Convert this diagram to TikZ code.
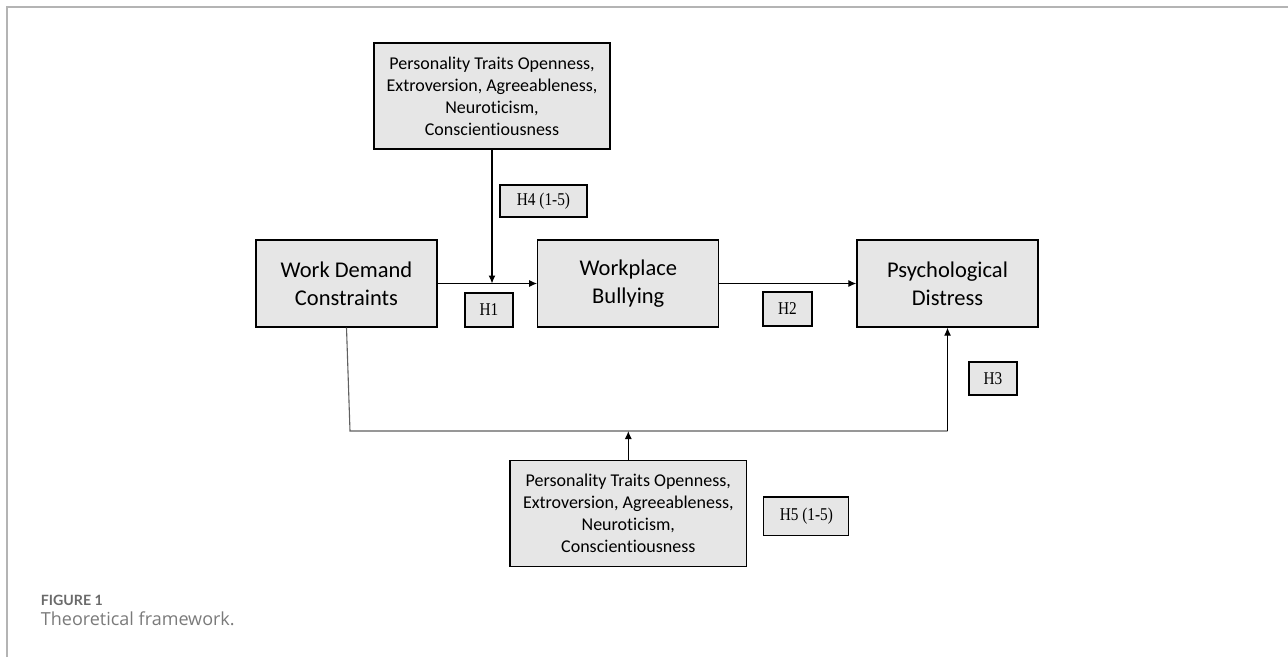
\documentclass[tikz,border=0pt]{standalone}
\usepackage{graphicx}
\usepackage{fontspec}
\setmainfont{Carlito}[Ligatures={NoCommon}]
\newfontfamily\hfont[FakeStretch=0.85]{Liberation Serif}
\newfontfamily\capfont{Open Sans}
\newfontfamily\figfont{Lato}
\usetikzlibrary{arrows.meta}
\definecolor{boxgray}{HTML}{E6E6E6}
\definecolor{framegray}{HTML}{B4B4B4}
\definecolor{capgray}{HTML}{7A7A7A}
\definecolor{figgray}{HTML}{6A6A6A}
\definecolor{linegray}{HTML}{606060}
\begin{document}
\begin{tikzpicture}[x=1pt,y=-1pt,
  mainbox/.style={draw=black,line width=1.3pt,fill=boxgray,minimum width=181pt,minimum height=87pt,inner sep=0pt,align=center,font=\fontsize{22.5}{28}\selectfont},
  traitbox/.style={draw=black,line width=1.3pt,fill=boxgray,minimum width=236pt,minimum height=106pt,inner sep=0pt,align=center,font=\fontsize{18}{22}\selectfont},
  hbox/.style={draw=black,line width=1.1pt,fill=boxgray,minimum height=33pt,inner sep=0pt,align=center,font=\hfont\fontsize{18}{20}\selectfont},
  conn/.style={draw=black,line width=1.2pt},
  arr/.style={conn,-{Latex[length=8pt,width=7pt]}},
  thinconn/.style={draw=linegray,line width=1.1pt}
]
\useasboundingbox (0,0) rectangle (1288,657);
% frame
\draw[framegray,line width=2pt] (7,657) -- (7,7) -- (1288,7);

% boxes
\node[traitbox] (top) at (492,96) {Personality Traits Openness,\\Extroversion, Agreeableness,\\Neuroticism,\\Conscientiousness};
\node[hbox,minimum width=87pt,minimum height=32pt] (h4) at (543.5,201) {H4 (1-5)};

\node[mainbox] (wd) at (346.5,283.5) {Work Demand\\Constraints};
\node[mainbox] (wb) at (628.3,283.5) {Workplace\\Bullying};
\node[mainbox] (pd) at (947.5,283.5) {Psychological\\Distress};

\node[hbox,minimum width=48pt,minimum height=34pt] (h1) at (489,310) {H1};
\node[hbox,minimum width=49pt,minimum height=34pt] (h2) at (787.5,309) {H2};
\node[hbox,minimum width=48pt,minimum height=33pt] (h3) at (993,378.5) {H3};

\node[traitbox,minimum width=236.7pt] (bot) at (628.3,513.7) {Personality Traits Openness,\\Extroversion, Agreeableness,\\Neuroticism,\\Conscientiousness};
\node[hbox,minimum width=85pt,minimum height=38.7pt] (h5) at (806.3,516.3) {H5 (1-5)};

% connectors
\draw[arr] (wd.east) -- (wb.west);
\draw[arr] (wb.east) -- (pd.west);
\coordinate (mid1) at (top.south |- wd.east);
\draw[arr] (top.south) -- (mid1);

\coordinate (bl) at (350,431);
\coordinate (bm) at (628.3,431);
\coordinate (br) at (947.5,431);
\draw[thinconn] (wd.south) -- (bl) -- (br);
\draw[arr] (br) -- (pd.south);
\draw[arr] (bot.north) -- (bm);

% caption
\node[anchor=base west,inner sep=0pt,text=figgray] (fig) at (40.7,605) {\resizebox{62pt}{!}{\figfont\bfseries\fontsize{14}{16}\selectfont FIGURE 1}};
\node[anchor=base west,inner sep=0pt,text=capgray,font=\capfont\fontsize{18}{22}\selectfont] (cap) at (40.7,625) {Theoretical framework.};
\end{tikzpicture}
\end{document}
